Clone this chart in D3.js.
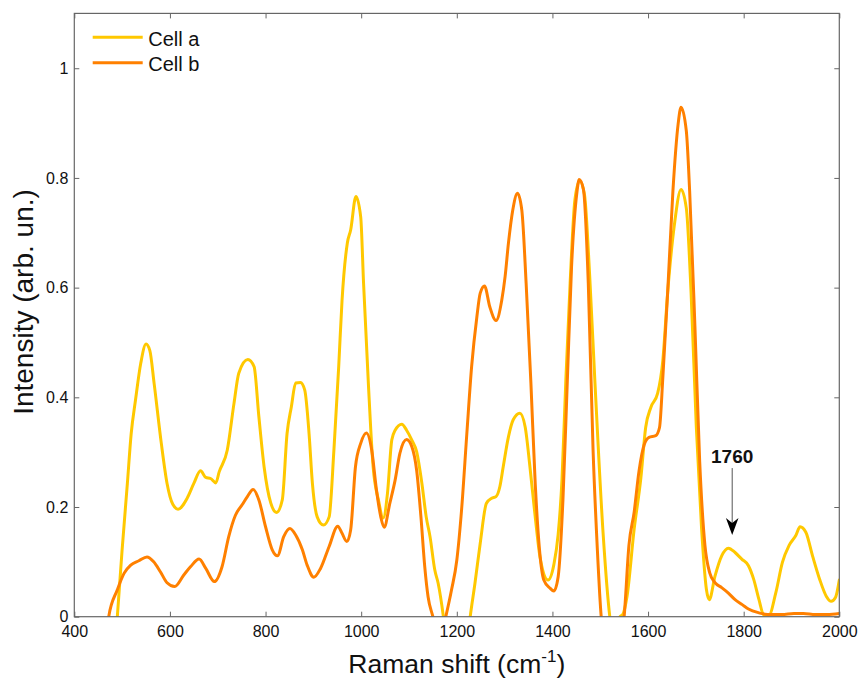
<!DOCTYPE html>
<html>
<head>
<meta charset="utf-8">
<script src="https://cdn.jsdelivr.net/npm/d3@7"></script>
<style>
  html, body { margin: 0; padding: 0; background: #fff; }
  svg { display: block; font-family: "Liberation Sans", Arial, Helvetica, sans-serif; }
</style>
</head>
<body>
<svg id="chart" width="859" height="678"></svg>
<script>
// Raman spectra of two cells (normalised intensity vs. wavenumber)
const seriesNames = ["Cell a", "Cell b"];
const seriesColors = ["#FFC800", "#FF8000"];

const cellAShift = [480, 490, 500, 511, 519, 528, 539, 550, 558, 567, 582, 594, 606, 617, 636, 650, 664, 675, 685, 696, 703, 720, 734, 744, 763, 776, 786, 797, 811, 823, 835, 845, 854, 863, 873, 882, 891, 898, 908, 921, 933, 943, 953, 960, 971, 978, 989, 999, 1005, 1015, 1025, 1036, 1046, 1055, 1064, 1071, 1085, 1095, 1106, 1116, 1127, 1136, 1144, 1154, 1161, 1172, 1185, 1200, 1215, 1228, 1238, 1249, 1262, 1273, 1282, 1290, 1297, 1308, 1318, 1332, 1343, 1353, 1364, 1374, 1391, 1403, 1412, 1420, 1428, 1437, 1447, 1457, 1467, 1478, 1489, 1506, 1520, 1530, 1541, 1547, 1556, 1571, 1585, 1595, 1606, 1620, 1631, 1641, 1655, 1669, 1680, 1690, 1701, 1712, 1722, 1728, 1740, 1754, 1768, 1782, 1796, 1810, 1821, 1832, 1842, 1853, 1867, 1881, 1895, 1909, 1918, 1930, 1944, 1959, 1973, 1983, 1992, 2000];
const cellAIntensity = [-0.12, 0.0, 0.122, 0.243, 0.334, 0.395, 0.462, 0.497, 0.485, 0.425, 0.316, 0.243, 0.205, 0.196, 0.216, 0.243, 0.266, 0.254, 0.252, 0.244, 0.264, 0.304, 0.389, 0.444, 0.469, 0.456, 0.365, 0.273, 0.207, 0.190, 0.213, 0.334, 0.383, 0.426, 0.427, 0.413, 0.334, 0.243, 0.182, 0.167, 0.182, 0.304, 0.456, 0.577, 0.681, 0.705, 0.766, 0.729, 0.608, 0.426, 0.273, 0.213, 0.180, 0.225, 0.322, 0.340, 0.351, 0.340, 0.322, 0.301, 0.243, 0.182, 0.146, 0.085, 0.061, 0.0, -0.10, -0.15, -0.10, 0.0, 0.061, 0.134, 0.207, 0.216, 0.219, 0.237, 0.273, 0.328, 0.359, 0.371, 0.346, 0.273, 0.182, 0.109, 0.067, 0.095, 0.15, 0.25, 0.43, 0.608, 0.760, 0.795, 0.770, 0.620, 0.426, 0.152, 0.0, -0.05, 0.0, 0.004, 0.037, 0.160, 0.253, 0.345, 0.382, 0.407, 0.468, 0.591, 0.714, 0.779, 0.745, 0.591, 0.345, 0.160, 0.050, 0.031, 0.074, 0.111, 0.125, 0.117, 0.105, 0.093, 0.068, 0.031, 0.003, 0.003, 0.043, 0.099, 0.130, 0.148, 0.164, 0.154, 0.111, 0.068, 0.037, 0.028, 0.035, 0.067];

const cellBShift = [465, 472, 490, 504, 518, 535, 552, 566, 580, 594, 610, 629, 643, 661, 675, 693, 709, 723, 737, 751, 762, 774, 786, 800, 814, 825, 838, 851, 863, 877, 887, 901, 915, 933, 951, 960, 970, 978, 988, 999, 1011, 1022, 1032, 1041, 1048, 1060, 1071, 1081, 1095, 1106, 1116, 1125, 1133, 1140, 1150, 1163, 1177, 1189, 1200, 1210, 1221, 1231, 1242, 1249, 1258, 1269, 1282, 1294, 1301, 1308, 1317, 1327, 1336, 1345, 1355, 1364, 1373, 1382, 1395, 1403, 1412, 1422, 1431, 1440, 1451, 1456, 1465, 1475, 1485, 1494, 1502, 1525, 1550, 1560, 1571, 1581, 1592, 1602, 1616, 1624, 1631, 1641, 1652, 1663, 1669, 1680, 1687, 1698, 1708, 1719, 1729, 1740, 1754, 1768, 1782, 1797, 1810, 1832, 1850, 1880, 1905, 1925, 1950, 1975, 2000];
const cellBIntensity = [-0.08, 0.0, 0.049, 0.079, 0.094, 0.102, 0.109, 0.100, 0.082, 0.062, 0.055, 0.076, 0.091, 0.105, 0.088, 0.064, 0.091, 0.146, 0.185, 0.204, 0.219, 0.232, 0.213, 0.164, 0.122, 0.111, 0.146, 0.161, 0.149, 0.122, 0.094, 0.072, 0.088, 0.128, 0.165, 0.152, 0.137, 0.158, 0.273, 0.316, 0.335, 0.304, 0.231, 0.182, 0.163, 0.207, 0.249, 0.298, 0.323, 0.310, 0.267, 0.182, 0.091, 0.036, 0.0, -0.05, 0.0, 0.049, 0.103, 0.195, 0.334, 0.456, 0.547, 0.590, 0.603, 0.565, 0.540, 0.577, 0.620, 0.681, 0.741, 0.772, 0.741, 0.608, 0.426, 0.243, 0.122, 0.067, 0.052, 0.047, 0.073, 0.213, 0.426, 0.638, 0.772, 0.797, 0.778, 0.608, 0.304, 0.122, 0.0, -0.12, 0.0, 0.130, 0.191, 0.265, 0.314, 0.327, 0.330, 0.345, 0.437, 0.591, 0.776, 0.899, 0.929, 0.886, 0.776, 0.530, 0.283, 0.130, 0.080, 0.062, 0.053, 0.043, 0.031, 0.022, 0.014, 0.007, 0.004, 0.004, 0.006, 0.006, 0.004, 0.004, 0.006];

const xTicks = [400, 600, 800, 1000, 1200, 1400, 1600, 1800, 2000];
const yTicks = [0, 0.2, 0.4, 0.6, 0.8, 1];

// Annotated band: label, arrow position (cm-1) and arrow extent (intensity)
const bandLabel = "1760";
const bandArrowShift = 1776;
const bandArrowTop = 0.271;
const bandArrowTip = 0.149;

const W = 859, H = 678;
const margin = { top: 13.4, right: 19.7, bottom: 61.3, left: 74.3 };
const innerW = W - margin.left - margin.right;
const innerH = H - margin.top - margin.bottom;

const svg = d3.select("#chart");
const g = svg.append("g").attr("transform", `translate(${margin.left},${margin.top})`);

const x = d3.scaleLinear().domain([400, 2000]).range([0, innerW]);
const y = d3.scaleLinear().domain([0, 1.1]).range([innerH, 0]);

svg.append("defs").append("clipPath").attr("id", "plotClip")
  .append("rect").attr("x", 0).attr("y", 0).attr("width", innerW).attr("height", innerH);

const series = [
  { name: seriesNames[0], color: seriesColors[0], pts: cellAShift.map((s, i) => [s, cellAIntensity[i]]) },
  { name: seriesNames[1], color: seriesColors[1], pts: cellBShift.map((s, i) => [s, cellBIntensity[i]]) }
];

const line = d3.line()
  .x(d => x(d[0]))
  .y(d => y(d[1]))
  .curve(d3.curveMonotoneX);

const plot = g.append("g").attr("clip-path", "url(#plotClip)");
series.forEach(s => {
  plot.append("path")
    .attr("d", line(s.pts))
    .attr("fill", "none")
    .attr("stroke", s.color)
    .attr("stroke-width", 3)
    .attr("stroke-linejoin", "round")
    .attr("stroke-linecap", "round");
});

// Axes: boxed frame with inward ticks on all four sides
const fmt = d => String(Math.round(d * 10) / 10);
const axisColor = "#666";

const xAxis = g.append("g").attr("transform", `translate(0,${innerH})`)
  .call(d3.axisBottom(x).tickValues(xTicks).tickFormat(fmt).tickSizeInner(-5).tickSizeOuter(0).tickPadding(9));
const xAxisTop = g.append("g")
  .call(d3.axisTop(x).tickValues(xTicks).tickFormat("").tickSizeInner(-5).tickSizeOuter(0));
const yAxis = g.append("g")
  .call(d3.axisLeft(y).tickValues(yTicks).tickFormat(fmt).tickSizeInner(-5).tickSizeOuter(0).tickPadding(6));
const yAxisRight = g.append("g").attr("transform", `translate(${innerW},0)`)
  .call(d3.axisRight(y).tickValues(yTicks).tickFormat("").tickSizeInner(-5).tickSizeOuter(0));

[xAxis, xAxisTop, yAxis, yAxisRight].forEach(a => {
  a.select(".domain").remove();
  a.selectAll(".tick line").attr("stroke", axisColor).attr("stroke-width", 1);
  a.selectAll(".tick text").attr("fill", "#111").attr("font-size", 16)
    .attr("font-family", "\"Liberation Sans\", Arial, Helvetica, sans-serif");
});

g.append("rect")
  .attr("x", 0).attr("y", 0).attr("width", innerW).attr("height", innerH)
  .attr("fill", "none").attr("stroke", axisColor).attr("stroke-width", 1.2);

// Axis titles
const xTitle = svg.append("text")
  .attr("x", margin.left + innerW / 2)
  .attr("y", 673)
  .attr("text-anchor", "middle")
  .attr("font-size", 26.5)
  .attr("fill", "#111");
xTitle.append("tspan").text("Raman shift (cm");
xTitle.append("tspan").attr("font-size", 17).attr("dy", -11).text("-1");
xTitle.append("tspan").attr("dy", 11).text(")");

svg.append("text")
  .attr("transform", `translate(33,302) rotate(-90)`)
  .attr("text-anchor", "middle")
  .attr("font-size", 28)
  .attr("fill", "#111")
  .text("Intensity (arb. un.)");

// Legend
const legend = svg.append("g").attr("transform", "translate(92.7,37.3)");
series.forEach((s, i) => {
  const row = legend.append("g").attr("transform", `translate(0,${i * 25.4})`);
  row.append("line").attr("x1", 0).attr("x2", 50).attr("y1", 0).attr("y2", 0)
    .attr("stroke", s.color).attr("stroke-width", 3);
  row.append("text").attr("x", 55.6).attr("y", 8.7)
    .attr("font-size", 20).attr("fill", "#111").text(s.name);
});

// Band annotation with arrow
const ax = x(bandArrowShift);
const yTop = y(bandArrowTop), yTip = y(bandArrowTip);
g.append("text")
  .attr("x", ax).attr("y", yTop - 5.5)
  .attr("text-anchor", "middle")
  .attr("font-size", 19).attr("font-weight", "bold").attr("fill", "#111")
  .text(bandLabel);
g.append("line")
  .attr("x1", ax).attr("x2", ax).attr("y1", yTop).attr("y2", yTip - 8)
  .attr("stroke", "#555").attr("stroke-width", 1);
g.append("path")
  .attr("d", `M${ax},${yTip} L${ax - 6.3},${yTip - 17} L${ax},${yTip - 12} L${ax + 6.3},${yTip - 17} Z`)
  .attr("fill", "#000");
</script>
</body>
</html>
